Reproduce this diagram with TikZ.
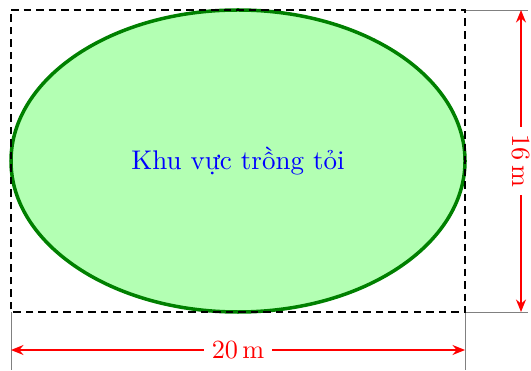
\documentclass[tikz,border=0pt]{standalone}
\usepackage{fontspec}
\usetikzlibrary{shapes.geometric,arrows.meta}
\definecolor{fillgreen}{HTML}{B3FFB3}
\definecolor{edgegreen}{HTML}{008000}
\tikzset{
  dimline/.style={red, line width=0.55pt, {Stealth[length=5pt,width=4pt]}-{Stealth[length=5pt,width=4pt]}},
  extline/.style={gray, line width=0.35pt},
  boundary/.style={black, line width=0.7pt, dash pattern=on 3pt off 2pt},
  dimlabel/.style={red, fill=white, inner sep=3pt, font=\fontsize{10.5}{12}\selectfont}
}
\begin{document}
\begin{tikzpicture}[x=0.4pt,y=-0.4pt]
\useasboundingbox (0,0) rectangle (531,371);
\coordinate (tl) at (11,10);
\coordinate (tr) at (465,10);
\coordinate (br) at (465,312);
\coordinate (bl) at (11,312);
\coordinate (tre) at (528,10);
\coordinate (bre) at (528,312);
\coordinate (ble) at (11,370);
\coordinate (brre) at (465,370);
\coordinate (dl) at (11,350);
\coordinate (dr) at (465,350);
\coordinate (dt) at (521,10);
\coordinate (db) at (521,312);
% extension lines
\draw[extline] (tr) -- (tre);
\draw[extline] (br) -- (bre);
\draw[extline] (bl) -- (ble);
\draw[extline] (br) -- (brre);
% ellipse
\node[ellipse, draw=edgegreen, fill=fillgreen, line width=1.4pt, minimum width=181.6pt, minimum height=120.8pt, inner sep=0pt, outer sep=0pt, text=blue, font=\fontsize{10.8}{13}\selectfont] (area) at (238,161) {Khu vực trồng tỏi};
% dashed boundary
\draw[boundary] (tl) -- (tr) -- (br) -- (bl) -- cycle;
% dimensions
\draw[dimline] (dl) -- node[dimlabel] (w) {20\,m} (dr);
\draw[dimline] (dt) -- node[dimlabel, rotate=-90] (h) {16\,m} (db);
\end{tikzpicture}
\end{document}
